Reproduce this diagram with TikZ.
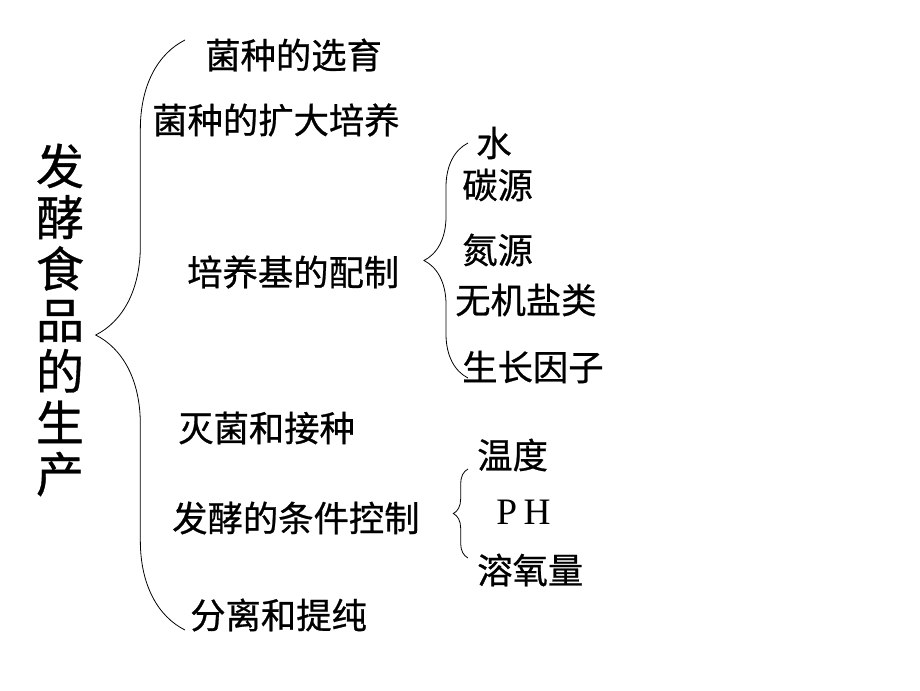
\documentclass[tikz,border=0pt]{standalone}
\usepackage{fontspec}
\setmainfont{Liberation Serif}
\newfontfamily\cjk[FakeBold=0.7]{Noto Sans CJK SC}
\usetikzlibrary{decorations.pathreplacing}
\tikzset{item/.style={inner sep=0pt,anchor=west,font=\cjk\fontsize{26.5}{30}\selectfont},
 title/.style={inner sep=0pt,align=center,font=\cjk\fontsize{36}{38.5}\selectfont},
 brc/.style={draw,line width=0.6pt,decorate,decoration={brace,amplitude=#1}}}

\begin{document}
\begin{tikzpicture}[x=0.75pt,y=-0.75pt]
\useasboundingbox[fill=white](0,0) rectangle (920,690);
\node[title](fj) at(60,320){发\\酵\\食\\品\\的\\生\\产};
% first level
\node[item](xy) at(205,55){菌种的选育};
\node[item](ky) at(152,120){菌种的扩大培养};
\node[item](pz) at(187,272){培养基的配制};
\node[item](mj) at(178,428){灭菌和接种};
\node[item](tj) at(172,518){发酵的条件控制};
\node[item](fl) at(190,615){分离和提纯};
% medium
\node[item](sh) at(476,143){水};
\node[item](ty) at(462,185){碳源};
\node[item](dy) at(462,250){氮源};
\node[item](wj) at(455,300){无机盐类};
\node[item](sz) at(462,367){生长因子};
% conditions
\node[item](wd) at(477,455){温度};
\node[item,font=\rmfamily\fontsize{28}{30}\selectfont](ph) at(496,512){P\hspace{5pt}H};
\node[item](ry) at(477,570){溶氧量};
% braces
\coordinate(b1t) at(185,40);\coordinate(b1b) at(185,630);
\coordinate(b2t) at(468,143);\coordinate(b2b) at(468,378);
\coordinate(b3t) at(468,469);\coordinate(b3b) at(468,558);
\draw[brc=67pt](b1b)--(b1t);
\draw[brc=33pt](b2b)--(b2t);
\draw[brc=11pt](b3b)--(b3t);
\end{tikzpicture}
\end{document}
